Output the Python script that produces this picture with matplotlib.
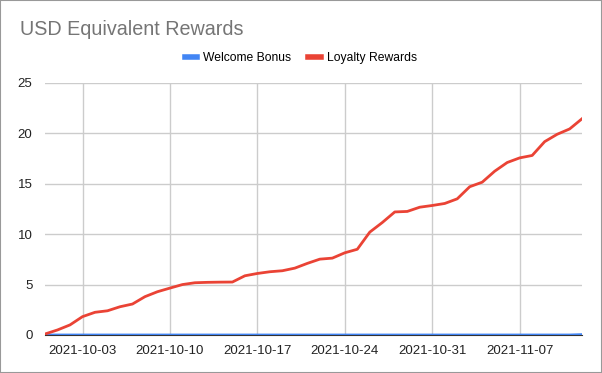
import numpy as np
import matplotlib
matplotlib.use('Agg')
import matplotlib.pyplot as plt
import matplotlib.dates as mdates
from matplotlib.lines import Line2D

plt.rcParams['font.family'] = ['Liberation Sans', 'DejaVu Sans']

# daily values, 2021-09-30 .. 2021-11-12
dates = np.arange(np.datetime64('2021-09-30'), np.datetime64('2021-11-13'))
loyalty = [0.1, 0.5, 1.0, 1.82, 2.25, 2.4, 2.8, 3.07, 3.8, 4.29,
           4.65, 5.0, 5.18, 5.22, 5.24, 5.25, 5.87, 6.1, 6.27, 6.37,
           6.63, 7.1, 7.52, 7.62, 8.15, 8.5, 10.2, 11.15, 12.2, 12.25,
           12.67, 12.84, 13.04, 13.5, 14.7, 15.15, 16.24, 17.1, 17.56, 17.8,
           19.17, 19.9, 20.43, 21.45]
welcome = [0.0] * 43 + [0.04]

yticks = [0, 5, 10, 15, 20, 25]
xticks = ['2021-10-03', '2021-10-10', '2021-10-17', '2021-10-24',
          '2021-10-31', '2021-11-07']

fig = plt.figure(figsize=(6.02, 3.73), dpi=100)
ax = fig.add_axes([0.0748, 0.1019, 0.8922, 0.676])

ax.plot(dates, welcome, color='#4285f4', lw=2, zorder=4, solid_capstyle='butt')
ax.plot(dates, loyalty, color='#ea4335', lw=2, zorder=5)

ax.set_xlim(dates[0], dates[-1])
ax.set_ylim(0, 25)
ax.set_yticks(yticks)
ax.set_xticks([np.datetime64(d) for d in xticks])
ax.xaxis.set_major_formatter(mdates.DateFormatter('%Y-%m-%d'))

ax.grid(True, color='#cccccc', lw=1)
ax.set_axisbelow(True)
for s in ['top', 'right', 'left']:
    ax.spines[s].set_visible(False)
ax.spines['bottom'].set_color('#333333')
ax.spines['bottom'].set_zorder(3)
ax.tick_params(length=0, labelsize=9.5, labelcolor='#222222', pad=7)
ax.tick_params(axis='y', pad=9)

fig.text(0.033, 0.905, 'USD Equivalent Rewards', fontsize=14.2, color='#757575')

handles = [Line2D([], [], color='#4285f4', lw=4),
           Line2D([], [], color='#ea4335', lw=4)]
fig.legend(handles, ['Welcome Bonus', 'Loyalty Rewards'], loc='center',
           bbox_to_anchor=(0.5, 0.845), ncol=2, frameon=False, fontsize=8.7,
           handlelength=1.0, columnspacing=1.4, handletextpad=0.5)

# thin gray frame around the picture
fig.patches.append(plt.Rectangle((0, 0), 1, 1, transform=fig.transFigure,
                                 fill=False, edgecolor='#999999', lw=1.5))

fig.savefig('out.png', dpi=100)
